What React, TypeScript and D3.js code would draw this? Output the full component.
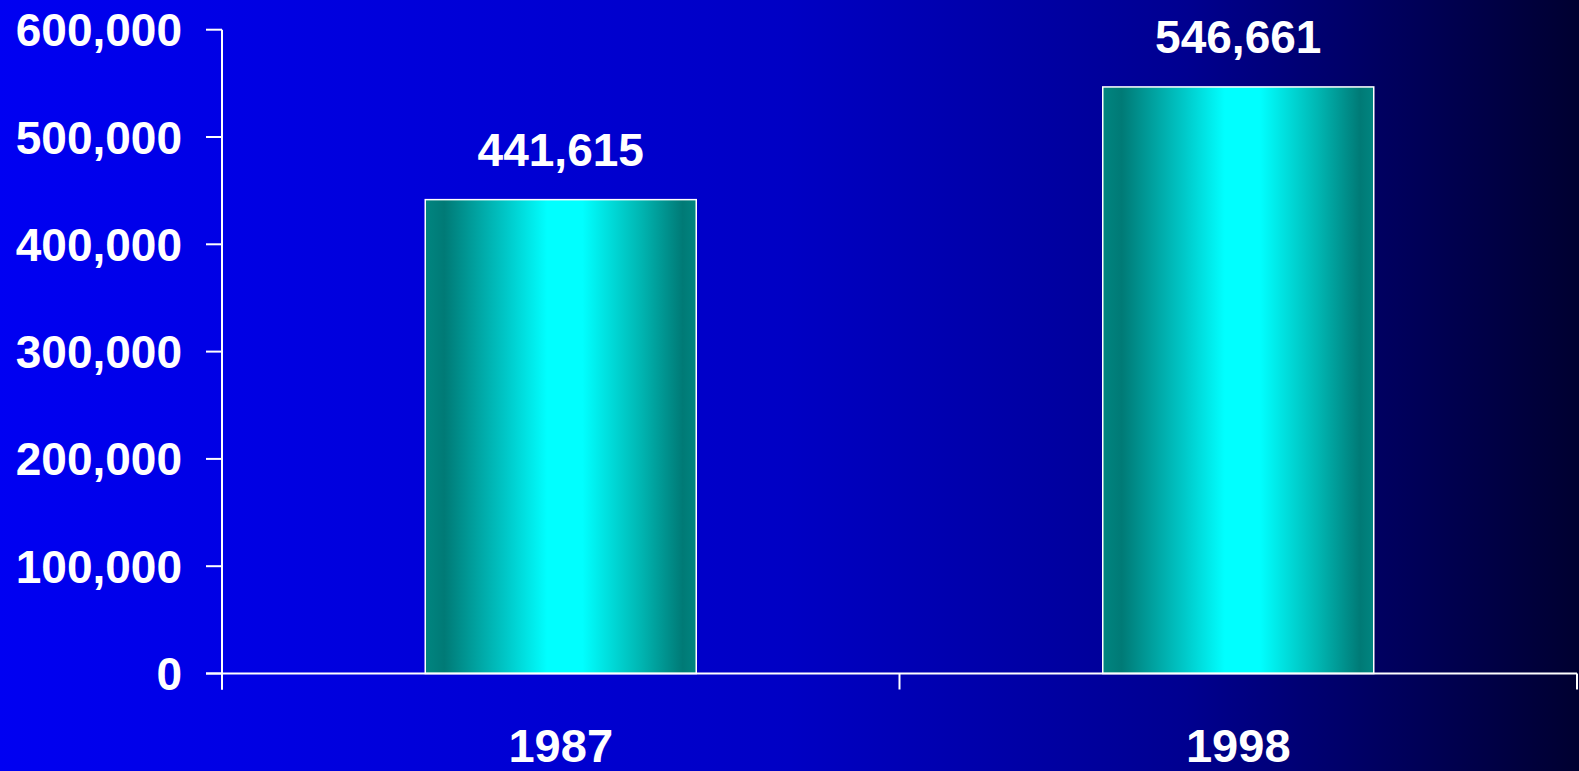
import React from "react";
import * as d3 from "d3";

const categories: string[] = ["1987", "1998"];
const values: number[] = [441615, 546661];
const yTicks: number[] = [0, 100000, 200000, 300000, 400000, 500000, 600000];

const W = 1579;
const H = 771;
const font = "'Liberation Sans', Arial, Helvetica, sans-serif";

export default function App() {
  const x = d3
    .scaleBand<string>()
    .domain(categories)
    .range([222, 1577])
    .paddingInner(0.6)
    .paddingOuter(0.3);
  const y = d3.scaleLinear().domain([0, 600000]).range([673.5, 29.7]);
  const fmt = d3.format(",");
  const step = x.step();
  const xStart = 222;
  const xEnd = 1577;

  return (
    <svg
      width={W}
      height={H}
      style={{ position: "absolute", left: 0, top: 0, display: "block" }}
    >
      <defs>
        <linearGradient id="bg" x1="0" y1="0" x2="1" y2="0">
          <stop offset="0" stopColor="#0000F2" />
          <stop offset="0.5" stopColor="#0000C4" />
          <stop offset="0.75" stopColor="#000090" />
          <stop offset="1" stopColor="#000030" />
        </linearGradient>
        <linearGradient id="bar" x1="0" y1="0" x2="1" y2="0">
          <stop offset="0" stopColor="#008580" />
          <stop offset="0.07" stopColor="#007A76" />
          <stop offset="0.3" stopColor="#00C8C8" />
          <stop offset="0.45" stopColor="#00FFFF" />
          <stop offset="0.58" stopColor="#00FFFF" />
          <stop offset="0.8" stopColor="#00B4B0" />
          <stop offset="0.95" stopColor="#007A76" />
          <stop offset="1" stopColor="#008580" />
        </linearGradient>
      </defs>
      <rect x={0} y={0} width={W} height={H} fill="url(#bg)" />

      {/* bars */}
      {categories.map((c, i) => (
        <rect
          key={c}
          x={x(c)!}
          y={y(values[i])}
          width={x.bandwidth()}
          height={y(0) - y(values[i])}
          fill="url(#bar)"
          stroke="#FFFFFF"
          strokeWidth={1.5}
        />
      ))}

      {/* y axis */}
      <line x1={xStart} x2={xStart} y1={y(600000)} y2={y(0) + 16} stroke="#fff" strokeWidth={2} />
      {yTicks.map((t) => (
        <g key={t}>
          <line x1={206} x2={xStart} y1={y(t)} y2={y(t)} stroke="#fff" strokeWidth={2} />
          <text
            x={182}
            y={y(t)}
            dy="0.36em"
            textAnchor="end"
            fill="#fff"
            fontFamily={font}
            fontWeight="bold"
            fontSize={46}
          >
            {fmt(t)}
          </text>
        </g>
      ))}

      {/* x axis */}
      <line x1={206} x2={xEnd} y1={y(0)} y2={y(0)} stroke="#fff" strokeWidth={2} />
      {[0, 1, 2].map((k) => (
        <line
          key={k}
          x1={xStart + k * step}
          x2={xStart + k * step}
          y1={y(0)}
          y2={y(0) + 16}
          stroke="#fff"
          strokeWidth={2}
        />
      ))}
      {categories.map((c) => (
        <text
          key={c}
          x={x(c)! + x.bandwidth() / 2}
          y={762}
          textAnchor="middle"
          fill="#fff"
          fontFamily={font}
          fontWeight="bold"
          fontSize={47}
        >
          {c}
        </text>
      ))}

      {/* value labels */}
      {categories.map((c, i) => (
        <text
          key={c}
          x={x(c)! + x.bandwidth() / 2}
          y={y(values[i]) - 34}
          textAnchor="middle"
          fill="#fff"
          fontFamily={font}
          fontWeight="bold"
          fontSize={46}
        >
          {fmt(values[i])}
        </text>
      ))}
    </svg>
  );
}
